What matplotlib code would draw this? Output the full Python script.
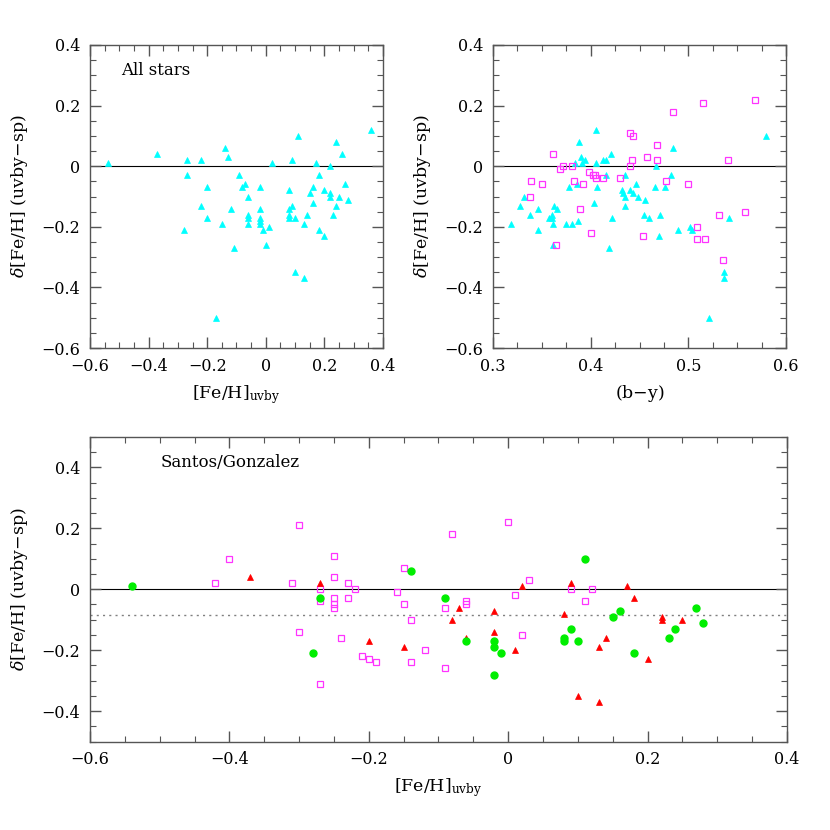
import matplotlib
matplotlib.use("Agg")
import matplotlib.pyplot as plt
from matplotlib.ticker import MultipleLocator, FuncFormatter

plt.rcParams['font.family'] = ['DejaVu Serif']
plt.rcParams['mathtext.fontset'] = 'dejavuserif'

# --- top left: all stars, dFe/H vs [Fe/H]uvby
feh_all = [-0.54, -0.37, -0.27, -0.27, -0.28, -0.22, -0.22, -0.20, -0.20, -0.17,
           -0.15, -0.14, -0.13, -0.12, -0.11, -0.09, -0.08, -0.07, -0.06, -0.06,
           -0.06, -0.06, -0.02, -0.02, -0.02, -0.02, -0.02, -0.01, 0.00, 0.01,
           0.02, 0.08, 0.08, 0.08, 0.08, 0.09, 0.09, 0.10, 0.10, 0.11,
           0.13, 0.13, 0.14, 0.15, 0.16, 0.16, 0.17, 0.18, 0.18, 0.20,
           0.20, 0.22, 0.22, 0.22, 0.23, 0.24, 0.24, 0.25, 0.26, 0.27,
           0.28, 0.36]
dfeh_all = [0.01, 0.04, 0.02, -0.03, -0.21, 0.02, -0.13, -0.07, -0.17, -0.50,
            -0.19, 0.06, 0.03, -0.14, -0.27, -0.03, -0.07, -0.06, -0.10, -0.16,
            -0.17, -0.19, -0.07, -0.14, -0.17, -0.18, -0.19, -0.21, -0.26, -0.20,
            0.01, -0.08, -0.14, -0.16, -0.17, 0.02, -0.13, -0.17, -0.35, 0.10,
            -0.19, -0.37, -0.16, -0.09, -0.07, -0.12, 0.01, -0.03, -0.21, -0.08,
            -0.23, 0.00, -0.09, -0.10, -0.16, 0.08, -0.13, -0.10, 0.04, -0.06,
            -0.11, 0.12]

# --- top right: dFe/H vs (b-y)
by_tri = [0.318, 0.328, 0.332, 0.338, 0.346, 0.346, 0.357, 0.360, 0.360, 0.361,
          0.361, 0.362, 0.365, 0.375, 0.378, 0.381, 0.384, 0.386, 0.387, 0.388,
          0.390, 0.391, 0.394, 0.403, 0.405, 0.405, 0.406, 0.413, 0.416, 0.416,
          0.419, 0.421, 0.422, 0.432, 0.433, 0.435, 0.435, 0.435, 0.440, 0.443,
          0.446, 0.448, 0.455, 0.456, 0.460, 0.466, 0.467, 0.470, 0.471, 0.476,
          0.482, 0.484, 0.489, 0.502, 0.504, 0.521, 0.537, 0.537, 0.542, 0.580]
dfeh_tri = [-0.19, -0.13, -0.10, -0.16, -0.14, -0.21, -0.17, -0.16, -0.17, -0.19,
            -0.26, -0.13, -0.14, -0.19, -0.07, -0.19, 0.01, -0.06, -0.18, 0.08,
            0.03, 0.01, 0.02, -0.12, 0.12, 0.01, -0.07, 0.02, 0.02, -0.03,
            -0.27, 0.04, -0.17, -0.08, -0.09, -0.10, -0.03, -0.13, -0.08, -0.09,
            -0.06, -0.10, -0.16, -0.11, -0.17, -0.07, 0.00, -0.23, -0.16, -0.07,
            -0.03, 0.06, -0.21, -0.20, -0.21, -0.50, -0.35, -0.37, -0.17, 0.10]
by_sq = [0.339, 0.338, 0.350, 0.361, 0.364, 0.369, 0.372, 0.381, 0.383, 0.389,
         0.392, 0.398, 0.400, 0.402, 0.404, 0.405, 0.413, 0.430, 0.440, 0.443,
         0.440, 0.442, 0.454, 0.458, 0.468, 0.468, 0.477, 0.484, 0.500, 0.509,
         0.509, 0.515, 0.517, 0.531, 0.535, 0.541, 0.558, 0.568]
dfeh_sq_by = [-0.05, -0.10, -0.06, 0.04, -0.26, -0.01, 0.00, 0.00, -0.05, -0.14,
              -0.06, -0.02, -0.22, -0.03, -0.03, -0.04, -0.04, -0.04, 0.11, 0.10,
              0.00, 0.02, -0.23, 0.03, 0.07, 0.02, -0.05, 0.18, -0.06, -0.20,
              -0.24, 0.21, -0.24, -0.16, -0.31, 0.02, -0.15, 0.22]

# --- bottom: Santos / Gonzalez
feh_sq = [-0.42, -0.40, -0.31, -0.30, -0.30, -0.27, -0.27, -0.27, -0.25, -0.25,
          -0.25, -0.25, -0.25, -0.24, -0.23, -0.23, -0.22, -0.21, -0.20, -0.19,
          -0.16, -0.15, -0.15, -0.14, -0.14, -0.12, -0.09, -0.09, -0.08, -0.06,
          -0.06, 0.00, 0.01, 0.02, 0.03, 0.09, 0.11, 0.12]
dfeh_sq = [0.02, 0.10, 0.02, 0.21, -0.14, 0.00, -0.04, -0.31, 0.11, 0.04,
           -0.03, -0.05, -0.06, -0.16, 0.02, -0.03, 0.00, -0.22, -0.23, -0.24,
           -0.01, 0.07, -0.05, -0.10, -0.24, -0.20, -0.06, -0.26, 0.18, -0.04,
           -0.05, 0.22, -0.02, -0.15, 0.03, 0.00, -0.04, 0.00]
feh_red = [-0.37, -0.27, -0.20, -0.15, -0.08, -0.07, -0.06, -0.02, -0.02, 0.01,
           0.02, 0.08, 0.09, 0.10, 0.13, 0.13, 0.14, 0.17, 0.18, 0.20,
           0.22, 0.22, 0.25]
dfeh_red = [0.04, 0.02, -0.17, -0.19, -0.10, -0.06, -0.16, -0.07, -0.14, -0.20,
            0.01, -0.08, 0.02, -0.35, -0.19, -0.37, -0.16, 0.01, -0.03, -0.23,
            -0.09, -0.10, -0.10]
feh_grn = [-0.54, -0.27, -0.28, -0.14, -0.09, -0.06, -0.02, -0.02, -0.02, -0.01,
           0.08, 0.08, 0.09, 0.10, 0.11, 0.15, 0.16, 0.18, 0.23, 0.24,
           0.27, 0.28]
dfeh_grn = [0.01, -0.03, -0.21, 0.06, -0.03, -0.17, -0.17, -0.19, -0.28, -0.21,
            -0.16, -0.17, -0.13, -0.17, 0.10, -0.09, -0.07, -0.21, -0.16, -0.13,
            -0.06, -0.11]
mean_offset = -0.085

ylab = r'$\delta$[Fe/H] (uvby$-$sp)'
xlab = r'[Fe/H]$_{\rm uvby}$'
frame = '#555555'


def fmt(v, pos):
    s = '%g' % round(v, 3)
    return s.replace('-', '\u2212')


def style(ax, xmaj, xmin, ymaj, ymin):
    ax.xaxis.set_major_locator(MultipleLocator(xmaj))
    ax.xaxis.set_minor_locator(MultipleLocator(xmin))
    ax.yaxis.set_major_locator(MultipleLocator(ymaj))
    ax.yaxis.set_minor_locator(MultipleLocator(ymin))
    ax.xaxis.set_major_formatter(FuncFormatter(fmt))
    ax.yaxis.set_major_formatter(FuncFormatter(fmt))
    ax.tick_params(which='both', direction='in', top=True, right=True,
                   color=frame, labelsize=11.5, pad=7)
    ax.tick_params(which='major', length=8, width=1)
    ax.tick_params(which='minor', length=4, width=0.8)
    for s in ax.spines.values():
        s.set_color(frame)
        s.set_linewidth(1.0)
    ax.set_ylabel(ylab, fontsize=12.5, labelpad=8)
    ax.axhline(0, color='black', lw=0.8, zorder=1)


fig = plt.figure(figsize=(8.3, 8.3), dpi=100)

ax1 = fig.add_axes([0.1084, 0.5807, 0.3530, 0.3651])
ax1.plot(feh_all, dfeh_all, '^', color='#00ffff', ms=4.5, mec='#00ffff', mew=0.5)
ax1.set_xlim(-0.6, 0.4)
ax1.set_ylim(-0.6, 0.4)
style(ax1, 0.2, 0.05, 0.2, 0.05)
ax1.set_xlabel(xlab, fontsize=12.5, labelpad=6)
ax1.text(0.105, 0.915, 'All stars', transform=ax1.transAxes, fontsize=12,
         va='center', ha='left')

ax2 = fig.add_axes([0.5940, 0.5807, 0.3530, 0.3651])
ax2.plot(by_tri, dfeh_tri, '^', color='#00ffff', ms=4.5, mec='#00ffff', mew=0.5)
ax2.plot(by_sq, dfeh_sq_by, 's', mfc='none', mec='#ff33ff', ms=4.5, mew=0.9)
ax2.set_xlim(0.3, 0.6)
ax2.set_ylim(-0.6, 0.4)
style(ax2, 0.1, 0.025, 0.2, 0.05)
ax2.set_xlabel('(b$-$y)', fontsize=12.5, labelpad=6)

ax3 = fig.add_axes([0.1084, 0.1066, 0.8398, 0.3669])
ax3.plot(feh_sq, dfeh_sq, 's', mfc='none', mec='#ff33ff', ms=4, mew=0.9)
ax3.plot(feh_red, dfeh_red, '^', color='red', ms=4.5, mec='red', mew=0.5)
ax3.plot(feh_grn, dfeh_grn, 'o', color='#00ee00', ms=5, mec='#00ee00')
ax3.axhline(mean_offset, color='gray', lw=1.0, ls=(0, (1.5, 3)), zorder=1)
ax3.set_xlim(-0.6, 0.4)
ax3.set_ylim(-0.5, 0.5)
style(ax3, 0.2, 0.05, 0.2, 0.05)
ax3.set_xlabel(xlab, fontsize=12.5, labelpad=6)
ax3.text(0.101, 0.917, 'Santos/Gonzalez', transform=ax3.transAxes,
         fontsize=12, va='center', ha='left')

fig.savefig('out.png', dpi=100)
